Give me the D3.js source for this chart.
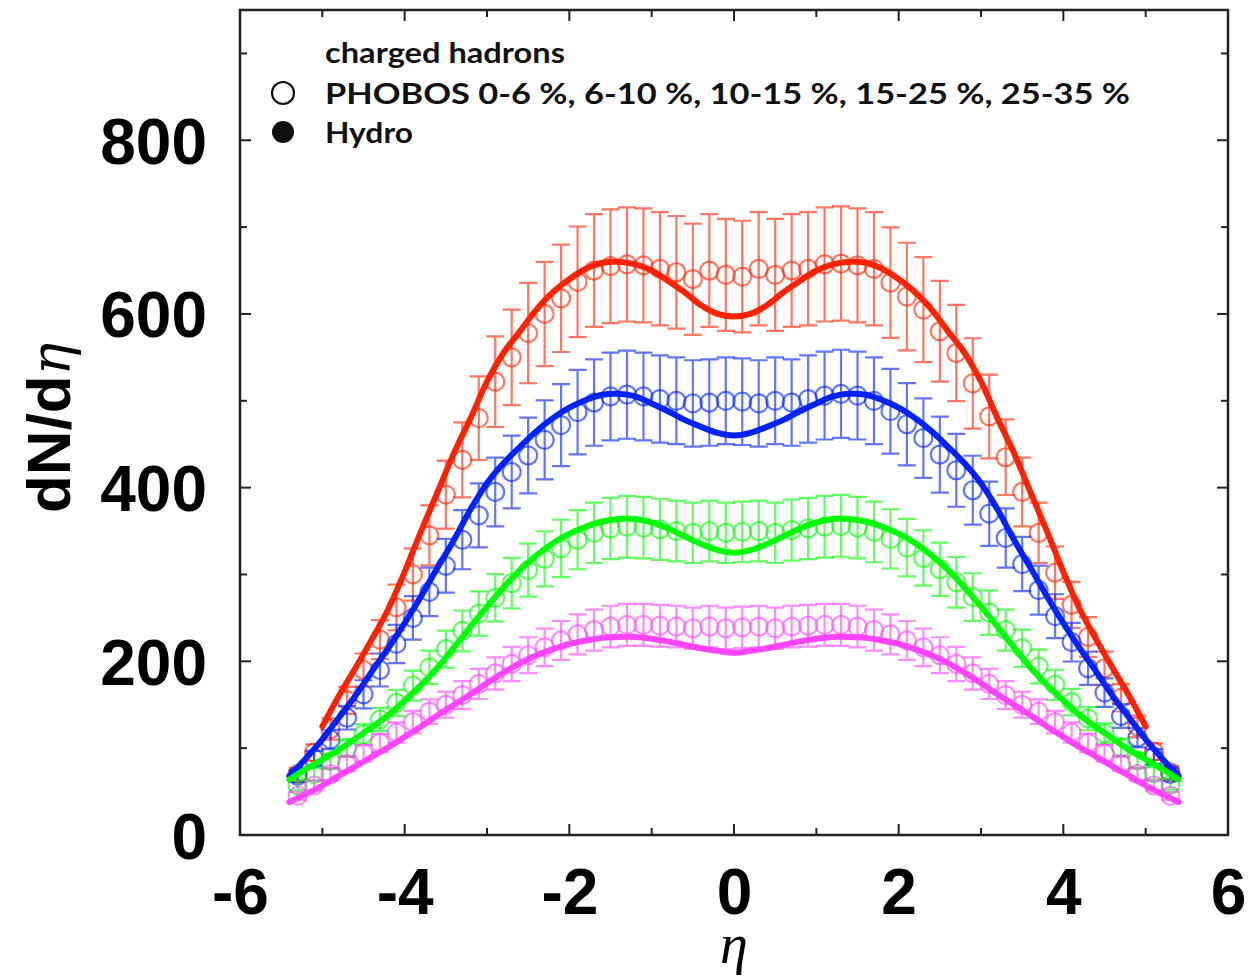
<!DOCTYPE html>
<html><head><meta charset="utf-8">
<script src="https://cdn.jsdelivr.net/npm/d3@7"></script>
<style>body{margin:0;background:#fff}</style>
</head><body><svg id="c" width="1249" height="976"></svg>
<script>
// ---- data ----
const etaPts = [-5.3,-5.1,-4.9,-4.7,-4.5,-4.3,-4.1,-3.9,-3.7,-3.5,-3.3,-3.1,-2.9,-2.7,-2.5,-2.3,-2.1,-1.9,-1.7,-1.5,-1.3,-1.1,-0.9,-0.7,-0.5,-0.3,-0.1,
  0.1,0.3,0.5,0.7,0.9,1.1,1.3,1.5,1.7,1.9,2.1,2.3,2.5,2.7,2.9,3.1,3.3,3.5,3.7,3.9,4.1,4.3,4.5,4.7,4.9,5.1,5.3];
const phobos0_6 = [70,95,122,155,190,225,262,300,345,392,432,480,522,550,578,600,618,637,650,655,657,656,652,648,640,650,645,
  643,652,645,650,652,657,658,656,652,636,620,605,580,555,520,482,435,395,348,302,265,228,192,158,125,96,72];
const phobos6_10 = [68,88,110,135,162,190,220,250,280,310,340,368,395,418,437,455,472,487,498,505,507,505,502,500,497,498,500,
  499,497,500,498,502,506,508,506,500,488,473,457,438,420,397,370,342,312,282,252,222,192,164,137,112,90,70];
const phobos10_15 = [57,70,85,100,116,133,152,172,193,214,235,255,273,290,305,318,330,340,348,353,355,354,352,350,348,350,348,
  349,350,348,351,353,355,356,354,349,341,331,319,306,291,274,256,236,215,194,173,153,134,117,101,86,71,58];
const phobos15_25 = [45,57,70,82,94,106,118,130,142,150,161,174,186,197,207,216,224,231,236,240,242,242,241,240,238,240,238,
  239,240,238,240,241,242,242,240,236,231,224,216,207,197,186,174,161,150,142,130,118,106,94,82,70,57,45];
const relErrPct = [10, 10, 10, 10];

const etaHydro = [-5.4,-5.2,-5.0,-4.8,-4.6,-4.4,-4.2,-4.0,-3.8,-3.6,-3.4,-3.2,-3.0,-2.8,-2.6,-2.4,-2.2,-2.0,-1.8,-1.6,-1.4,-1.2,-1.0,-0.8,-0.6,-0.4,-0.2,0,
  0.2,0.4,0.6,0.8,1.0,1.2,1.4,1.6,1.8,2.0,2.2,2.4,2.6,2.8,3.0,3.2,3.4,3.6,3.8,4.0,4.2,4.4,4.6,4.8,5.0,5.2,5.4];
const etaHydroRed = [-5.0,-4.8,-4.6,-4.4,-4.2,-4.0,-3.8,-3.6,-3.4,-3.2,-3.0,-2.8,-2.6,-2.4,-2.2,-2.0,-1.8,-1.6,-1.4,-1.2,-1.0,-0.8,-0.6,-0.4,-0.2,0,
  0.2,0.4,0.6,0.8,1.0,1.2,1.4,1.6,1.8,2.0,2.2,2.4,2.6,2.8,3.0,3.2,3.4,3.6,3.8,4.0,4.2,4.4,4.6,4.8,5.0];
const hydro0_6 = [125,160,192,225,260,303,350,395,440,480,522,555,580,605,625,640,652,659,660,657,650,638,625,610,600,597,
  600,610,625,638,650,657,660,659,652,640,625,605,580,555,522,480,440,395,350,303,260,225,192,160,125];
const hydro6_10 = [68,88,110,135,160,188,215,244,275,308,340,375,405,428,447,465,480,492,501,507,508,505,497,488,478,470,463,460,
  463,470,478,488,497,505,508,507,501,492,480,465,447,428,405,375,340,308,275,244,215,188,160,135,110,88,68];
const hydro10_15 = [64,76,87,98,111,124,138,155,173,193,216,240,263,285,305,322,336,347,355,361,364,364,360,353,344,335,328,325,
  328,335,344,353,360,364,364,361,355,347,336,322,305,285,263,240,216,193,173,155,138,124,111,98,87,76,64];
const hydro15_25 = [38,47,57,68,79,90,101,113,125,138,150,162,175,187,198,207,214,220,224,227,228,228,226,223,219,215,212,210,
  212,215,219,223,226,228,228,227,224,220,214,207,198,187,175,162,150,138,125,113,101,90,79,68,57,47,38];

const seriesColors = ["#ff2200", "#0022ff", "#00ff00", "#ff44ff"];
const xTicksMajor = [-6,-4,-2,0,2,4,6];
const xTicksMinor = [-5,-3,-1,1,3,5];
const yTicksMajor = [0,200,400,600,800];
const yTicksMinor = [100,300,500,700,900];
const legendTitle = "charged hadrons";
const legendData = "PHOBOS 0-6 %, 6-10 %, 10-15 %, 15-25 %, 25-35 %";
const legendHydro = "Hydro";

// ---- layout ----
const svg = d3.select("#c");
const L = 240, R = 1228, T = 10, B = 835;
const x = d3.scaleLinear().domain([-6, 6]).range([L, R]);
const y = d3.scaleLinear().domain([0, 950]).range([B, T]);

svg.append("rect").attr("width",1249).attr("height",976).attr("fill","#fff");
svg.append("clipPath").attr("id","clip").append("rect")
  .attr("x",L).attr("y",T).attr("width",R-L).attr("height",B-T);

const plot = svg.append("g").attr("clip-path","url(#clip)");

const dataSets = [phobos0_6, phobos6_10, phobos10_15, phobos15_25];
const hydroSets = [
  {eta: etaHydroRed, v: hydro0_6},
  {eta: etaHydro, v: hydro6_10},
  {eta: etaHydro, v: hydro10_15},
  {eta: etaHydro, v: hydro15_25}
];

// data points with error bars
const capW = 9;
dataSets.forEach((vals, si) => {
  const g = plot.append("g").attr("stroke", seriesColors[si]).attr("fill","none")
    .attr("stroke-opacity", 0.62).attr("stroke-width", 2.2);
  const pts = etaPts.map((e,i)=>({e, v: vals[i], err: vals[i]*relErrPct[si]/100}));
  g.selectAll("path.eb").data(pts).join("path").attr("class","eb")
    .attr("d", d => {
      const cx = x(d.e), y1 = y(d.v + d.err), y0 = y(d.v - d.err);
      return `M${cx},${y1}V${y0}M${cx-capW},${y1}H${cx+capW}M${cx-capW},${y0}H${cx+capW}`;
    });
  g.selectAll("circle").data(pts).join("circle")
    .attr("cx", d => x(d.e)).attr("cy", d => y(d.v)).attr("r", 9);
});

// hydro curves
const line = d3.line().curve(d3.curveCatmullRom.alpha(0.5));
hydroSets.forEach((h, si) => {
  plot.append("path")
    .attr("d", line(h.eta.map((e,i)=>[x(e), y(h.v[i])])))
    .attr("fill","none").attr("stroke", seriesColors[si]).attr("stroke-width", 6)
    .attr("stroke-linecap","round");
});

// frame + ticks
const axG = svg.append("g").attr("stroke","#222").attr("stroke-width",2);
const tick = (len, list, side) => list.forEach(v => {
  if (side === "b") axG.append("line").attr("x1",x(v)).attr("x2",x(v)).attr("y1",B).attr("y2",B-len);
  if (side === "t") axG.append("line").attr("x1",x(v)).attr("x2",x(v)).attr("y1",T).attr("y2",T+len);
  if (side === "l") axG.append("line").attr("x1",L).attr("x2",L+len).attr("y1",y(v)).attr("y2",y(v));
  if (side === "r") axG.append("line").attr("x1",R).attr("x2",R-len).attr("y1",y(v)).attr("y2",y(v));
});
tick(11, xTicksMajor, "b"); tick(11, xTicksMajor, "t");
tick(7, xTicksMinor, "b"); tick(7, xTicksMinor, "t");
tick(11, yTicksMajor, "l"); tick(11, yTicksMajor, "r");
tick(7, yTicksMinor, "l"); tick(7, yTicksMinor, "r");
svg.append("rect").attr("x",L).attr("y",T).attr("width",R-L).attr("height",B-T)
  .attr("fill","none").attr("stroke","#222").attr("stroke-width",2.5);

// tick labels via d3 axes (labels only)
const xAxis = d3.axisBottom(x).tickValues(xTicksMajor).tickSize(0).tickPadding(0).tickFormat(d => String(d));
const gx = svg.append("g").attr("transform",`translate(0,${B})`).call(xAxis);
gx.select(".domain").remove();
gx.selectAll("text").attr("dy",null).attr("y",79)
  .attr("font-family","'Liberation Sans', Arial, sans-serif").attr("font-weight","bold")
  .attr("font-size",64).attr("fill","#000");
const yAxis = d3.axisLeft(y).tickValues(yTicksMajor).tickSize(0).tickPadding(0).tickFormat(d => String(d));
const gy = svg.append("g").attr("transform",`translate(${L},0)`).call(yAxis);
gy.select(".domain").remove();
gy.selectAll("text").attr("x",-33).attr("dy","0.36em")
  .attr("font-family","'Liberation Sans', Arial, sans-serif").attr("font-weight","bold")
  .attr("font-size",64).attr("fill","#000");

// axis titles
const yt = svg.append("text").attr("transform","translate(70,513) rotate(-90)")
  .attr("font-size",62).attr("fill","#000");
yt.append("tspan").attr("font-family","'Liberation Sans', Arial, sans-serif").attr("font-weight","bold").text("dN/d");
yt.append("tspan").attr("font-family","'DejaVu Serif', serif").attr("font-style","italic").attr("font-size",54).text("η");
svg.append("text").attr("x",x(0)).attr("y",963).attr("text-anchor","middle")
  .attr("font-family","'Liberation Serif', serif").attr("font-style","italic").attr("font-size",56).attr("fill","#000").text("η");

// legend
const lf = "Lato, 'Open Sans', sans-serif";
const legText = (yy, txt, w) => svg.append("text").attr("x",325).attr("y",yy)
  .attr("font-family",lf).attr("font-weight","bold").attr("font-size",28).attr("fill","#111")
  .attr("textLength", w).attr("lengthAdjust","spacingAndGlyphs").text(txt);
legText(63, legendTitle, 240);
svg.append("circle").attr("cx",283).attr("cy",93).attr("r",11).attr("fill","none").attr("stroke","#111").attr("stroke-width",2.2);
legText(104, legendData, 805);
svg.append("circle").attr("cx",283).attr("cy",132).attr("r",11).attr("fill","#111");
legText(143, legendHydro, 88);
</script>
</body></html>
